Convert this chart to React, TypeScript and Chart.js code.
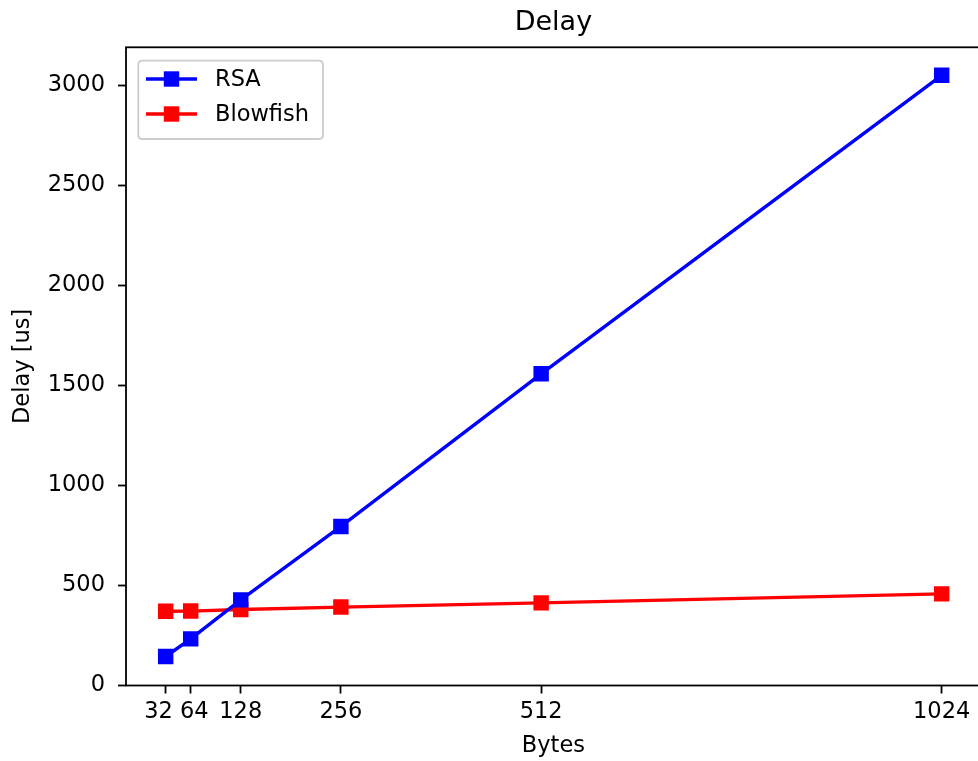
import React, { useEffect, useRef } from "react";
import { Chart, registerables } from "chart.js";

Chart.register(...registerables);

const chartTitle = "Delay";
const xAxisLabel = "Bytes";
const yAxisLabel = "Delay [us]";
const bytes = [32, 64, 128, 256, 512, 1024];
const rsaDelay = [145, 233, 428, 795, 1558, 3050];
const blowfishDelay = [371, 372, 380, 392, 413, 458];
const xTickValues = [32, 64, 128, 256, 512, 1024];
const xTickLabels = ["32  ", " 64", "128", "256", "512", "1024"];
const yTickValues = [0, 500, 1000, 1500, 2000, 2500, 3000];

const FONT = "'DejaVu Sans', sans-serif";

const frameAndLegend = {
  id: "frameAndLegend",
  afterDraw(chart: any) {
    const { ctx, chartArea } = chart;
    ctx.save();
    // axes frame (all four spines)
    ctx.strokeStyle = "#000";
    ctx.lineWidth = 1.8;
    ctx.strokeRect(chartArea.left, chartArea.top, chartArea.right - chartArea.left, chartArea.bottom - chartArea.top);

    // title centred over the axes
    ctx.fillStyle = "#000";
    ctx.font = `27px ${FONT}`;
    ctx.textAlign = "center";
    ctx.textBaseline = "middle";
    ctx.fillText(chartTitle, (chartArea.left + chartArea.right) / 2, 23);

    // legend inside upper-left
    const lx = chartArea.left + 12.3;
    const ly = chartArea.top + 13.4;
    const lw = 184.7;
    const lh = 78.3;
    const r = 4;
    ctx.beginPath();
    ctx.moveTo(lx + r, ly);
    ctx.lineTo(lx + lw - r, ly);
    ctx.quadraticCurveTo(lx + lw, ly, lx + lw, ly + r);
    ctx.lineTo(lx + lw, ly + lh - r);
    ctx.quadraticCurveTo(lx + lw, ly + lh, lx + lw - r, ly + lh);
    ctx.lineTo(lx + r, ly + lh);
    ctx.quadraticCurveTo(lx, ly + lh, lx, ly + lh - r);
    ctx.lineTo(lx, ly + r);
    ctx.quadraticCurveTo(lx, ly, lx + r, ly);
    ctx.closePath();
    ctx.fillStyle = "rgba(255,255,255,0.8)";
    ctx.fill();
    ctx.strokeStyle = "#cccccc";
    ctx.lineWidth = 1.8;
    ctx.stroke();

    chart.data.datasets.forEach((ds: any, i: number) => {
      const y = ly + 18.3 + i * 35;
      const x0 = lx + 7.7;
      const x1 = lx + 58.7;
      ctx.strokeStyle = ds.borderColor;
      ctx.lineWidth = 3.4;
      ctx.beginPath();
      ctx.moveTo(x0, y);
      ctx.lineTo(x1, y);
      ctx.stroke();
      const s = 13.4;
      const cx = (x0 + x1) / 2;
      ctx.fillStyle = ds.pointBackgroundColor;
      ctx.fillRect(cx - s / 2, y - s / 2, s, s);
      ctx.lineWidth = 2;
      ctx.strokeRect(cx - s / 2, y - s / 2, s, s);
      ctx.fillStyle = "#000";
      ctx.font = `22.5px ${FONT}`;
      ctx.textAlign = "left";
      ctx.textBaseline = "middle";
      ctx.fillText(ds.label, lx + 76.7, y + 1);
    });
    ctx.restore();
  },
};

export default function App() {
  const canvasRef = useRef<HTMLCanvasElement | null>(null);

  useEffect(() => {
    document.body.style.margin = "0";
    const canvas = canvasRef.current;
    if (!canvas) return;
    const chart = new Chart(canvas, {
      type: "line",
      data: {
        datasets: [
          {
            label: "RSA",
            data: bytes.map((b, i) => ({ x: b, y: rsaDelay[i] })),
            borderColor: "#0000ff",
            backgroundColor: "#0000ff",
            pointBackgroundColor: "#0000ff",
            pointBorderColor: "#0000ff",
            borderWidth: 3.4,
            pointStyle: "rect",
            pointRadius: 9.5,
            pointBorderWidth: 2,
            tension: 0,
          },
          {
            label: "Blowfish",
            data: bytes.map((b, i) => ({ x: b, y: blowfishDelay[i] })),
            borderColor: "#ff0000",
            backgroundColor: "#ff0000",
            pointBackgroundColor: "#ff0000",
            pointBorderColor: "#ff0000",
            borderWidth: 3.4,
            pointStyle: "rect",
            pointRadius: 9.5,
            pointBorderWidth: 2,
            tension: 0,
          },
        ],
      },
      options: {
        responsive: false,
        animation: false,
        devicePixelRatio: 1,
        layout: { autoPadding: false, padding: { left: 0, right: 3.2, top: 47.3, bottom: 0 } },
        plugins: {
          legend: { display: false },
          tooltip: { enabled: false },
          title: { display: false },
        },
        scales: {
          x: {
            type: "linear",
            min: -18.7,
            max: 1074,
            afterBuildTicks: (axis: any) => {
              axis.ticks = xTickValues.map((v) => ({ value: v }));
            },
            afterFit: (scale: any) => {
              scale.height = 75.5;
              scale.paddingLeft = 0;
              scale.paddingRight = 0;
            },
            grid: {
              display: true,
              drawOnChartArea: false,
              drawTicks: true,
              tickLength: 8,
              tickColor: "#000",
              tickWidth: 1.8,
            },
            border: { display: false },
            ticks: {
              color: "#000",
              font: { family: FONT, size: 22.5 },
              padding: 5,
              maxRotation: 0,
              autoSkip: false,
              callback: (v: any) => {
                const idx = xTickValues.indexOf(Number(v));
                return idx >= 0 ? xTickLabels[idx] : String(v);
              },
            },
            title: {
              display: true,
              text: xAxisLabel,
              color: "#000",
              font: { family: FONT, size: 22.5 },
              padding: { top: 0, bottom: 1 },
            },
          },
          y: {
            type: "linear",
            min: 0,
            max: 3190,
            afterBuildTicks: (axis: any) => {
              axis.ticks = yTickValues.map((v) => ({ value: v }));
            },
            afterFit: (scale: any) => {
              scale.width = 126;
              scale.paddingTop = 0;
              scale.paddingBottom = 0;
            },
            grid: {
              display: true,
              drawOnChartArea: false,
              drawTicks: true,
              tickLength: 8,
              tickColor: "#000",
              tickWidth: 1.8,
            },
            border: { display: false },
            ticks: {
              color: "#000",
              font: { family: FONT, size: 22.5 },
              padding: 13,
              autoSkip: false,
              callback: (v: any) => String(v),
            },
            title: {
              display: true,
              text: yAxisLabel,
              color: "#000",
              font: { family: FONT, size: 22.5 },
              padding: { top: 10, bottom: 0 },
            },
          },
        },
      },
      plugins: [frameAndLegend],
    } as any);
    return () => chart.destroy();
  }, []);

  return (
    <div style={{ width: 978, height: 761, overflow: "hidden", position: "relative" }}>
      <canvas
        ref={canvasRef}
        width={984}
        height={761}
        style={{ display: "block", width: 984, height: 761 }}
      />
    </div>
  );
}
